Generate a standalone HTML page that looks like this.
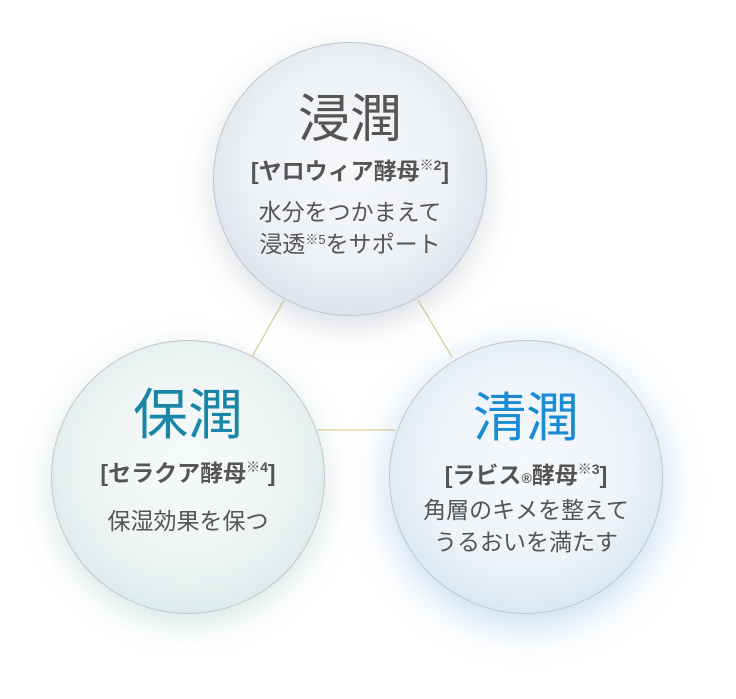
<!DOCTYPE html>
<html><head><meta charset="utf-8"><style>
body{margin:0;width:736px;height:699px;background:#fff;overflow:hidden;position:relative;font-family:"Liberation Sans","Noto Sans CJK JP",sans-serif;}
.c{position:absolute;width:274px;height:274px;border-radius:50%;border:1px solid #c0c6ce;box-sizing:border-box;text-align:center;color:#555;}
.t{position:absolute;left:0;right:0;font-size:52px;line-height:1;}
.b{position:absolute;left:0;right:0;font-size:23px;font-weight:bold;line-height:1;color:#555;white-space:nowrap;}
.b sup{font-size:14px;font-weight:bold;vertical-align:9px}
.l{position:absolute;left:0;right:0;font-size:23px;line-height:28px;color:#555;white-space:nowrap;}
.l sup{font-size:13px;vertical-align:8px}
</style></head><body>
<svg width="736" height="699" style="position:absolute;left:0;top:0">
<line x1="284" y1="300" x2="252" y2="357" stroke="#dccc8e" stroke-width="1.2"/>
<line x1="418" y1="300" x2="452" y2="357" stroke="#dccc8e" stroke-width="1.2"/>
<line x1="318" y1="430" x2="396" y2="430" stroke="#dccc8e" stroke-width="1.2"/>
</svg>
<div class="c" style="left:213px;top:42px;background:radial-gradient(circle at 50% 45%,#f6f8fa 0%,#eef1f5 50%,#d6dee8 85%,#b9c6d4 100%);box-shadow:0 10px 30px rgba(150,160,175,.35);">
<div class="t" style="top:51px">浸潤</div>
<div class="b" style="top:115px">[ヤロウィア酵母<sup>※2</sup>]</div>
<div class="l" style="top:155px">水分をつかまえて<br>浸透<sup>※5</sup>をサポート</div>
</div>
<div class="c" style="left:51px;top:340px;background:radial-gradient(circle at 50% 45%,#f7fafa 0%,#eef4f4 50%,#d5e8e6 85%,#b5d8d4 100%);box-shadow:0 10px 30px rgba(140,190,180,.35);">
<div class="t" style="top:47px;color:#1a86a6;font-size:55px">保潤</div>
<div class="b" style="top:119px">[セラクア酵母<sup>※4</sup>]</div>
<div class="l" style="top:166px">保湿効果を保つ</div>
</div>
<div class="c" style="left:389px;top:340px;background:radial-gradient(circle at 50% 45%,#f6f9fb 0%,#edf3f8 50%,#d2e3f0 85%,#b2cfe6 100%);box-shadow:0 10px 40px rgba(120,175,225,.45);">
<div class="t" style="top:51px;color:#1a8cd4;font-size:53px">清潤</div>
<div class="b" style="top:121px">[ラビス<span style="font-size:14px">®</span>酵母<sup>※3</sup>]</div>
<div class="l" style="top:153px;line-height:32px">角層のキメを整えて<br>うるおいを満たす</div>
</div>
</body></html>
